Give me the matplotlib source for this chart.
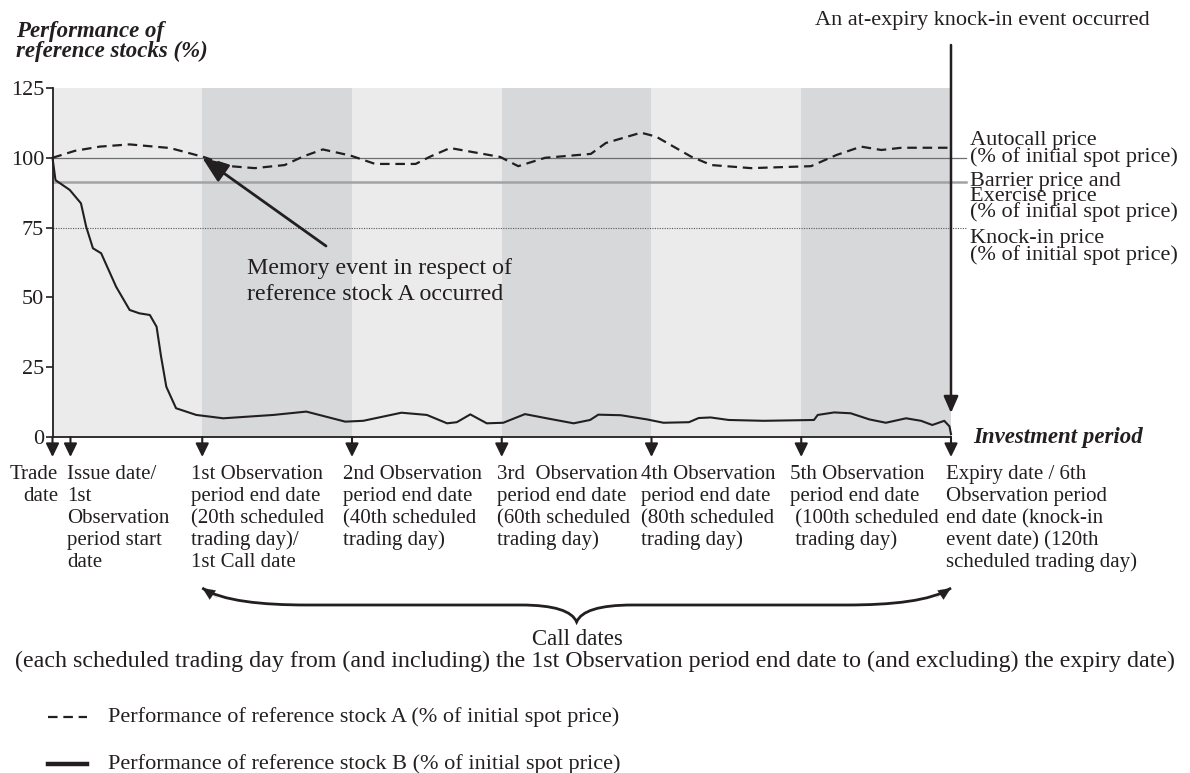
import matplotlib
matplotlib.use("Agg")
import matplotlib.pyplot as plt
import matplotlib.transforms as mtransforms
from matplotlib.lines import Line2D
from matplotlib.patches import PathPatch
from matplotlib.path import Path

plt.rcParams['font.family'] = ['Liberation Serif', 'DejaVu Serif']

# ---------------- data ----------------
days_a = [0, 3, 6.3, 10.3, 15.7, 20.3, 23.7, 27, 31, 33.5, 36.1, 39.8, 43.1, 48.5, 50.5,
          53.1, 59.8, 62.2, 65.8, 71.9, 73.9, 78.6, 80.6, 85.3, 88, 93.3, 101.3, 104.7,
          108, 110.7, 113.4, 120]
perf_a = [100, 102.5, 104, 104.8, 103.5, 100.2, 97, 96.3, 97.4, 100.5, 103, 100.8, 97.8,
          97.8, 100.5, 103.5, 100.3, 97, 100, 101.4, 105.3, 109, 107.6, 100.4, 97.4, 96.3,
          97, 101, 104, 102.8, 103.6, 103.6]

days_b = [0, 0.4, 2.3, 3.8, 4.5, 5.4, 6.5, 8.5, 10.3, 11.6, 13.0, 13.9, 14.5, 15.2, 16.5,
          19.2, 22.8, 29.5, 33.9, 39.1, 41.5, 46.6, 50.0, 52.7, 54.0, 55.8, 58.0, 60.2,
          63.1, 66.0, 69.6, 71.8, 72.9, 75.9, 79.4, 81.6, 85.0, 86.3, 87.9, 90.3, 95.0,
          101.7, 102.2, 104.4, 106.6, 109.1, 111.3, 114.0, 116.0, 117.5, 119.1, 119.8, 120]
perf_b = [100, 92, 88.5, 83.7, 75.3, 67.6, 65.8, 53.8, 45.5, 44.3, 43.7, 39.5, 28.8, 18,
          10.3, 7.9, 6.7, 7.9, 9.1, 5.5, 5.8, 8.7, 7.9, 4.9, 5.3, 8.1, 4.9, 5.1, 8.2, 6.7,
          4.9, 6.1, 8, 7.8, 6.3, 5.1, 5.3, 6.8, 7, 6.1, 5.8, 6.1, 7.9, 8.8, 8.5, 6.3, 5.1,
          6.7, 5.8, 4.3, 5.8, 3.8, 1.0]

autocall_level = 100
barrier_level = 91.5
knockin_level = 75
yticks = [0, 25, 50, 75, 100, 125]
period_ends = [0, 20, 40, 60, 80, 100, 120]
event_days = [0, 2.4, 20, 40, 60, 80, 100, 120]

event_labels = [
    ["Trade", "date"],
    ["Issue date/", "1st", "Observation", "period start", "date"],
    ["1st Observation", "period end date", "(20th scheduled", "trading day)/", "1st Call date"],
    ["2nd Observation", "period end date", "(40th scheduled", "trading day)"],
    ["3rd  Observation", "period end date", "(60th scheduled", "trading day)"],
    ["4th Observation", "period end date", "(80th scheduled", "trading day)"],
    ["5th Observation", "period end date", " (100th scheduled", " trading day)"],
    ["Expiry date / 6th", "Observation period", "end date (knock-in", "event date) (120th",
     "scheduled trading day)"],
]
level_labels = [
    ["Autocall price", "(% of initial spot price)"],
    ["Barrier price and", "Exercise price", "(% of initial spot price)"],
    ["Knock-in price", "(% of initial spot price)"],
]

# ---------------- layout ----------------
W, H = 1190, 773
TXT = '#231f20'
fig = plt.figure(figsize=(W / 100, H / 100), dpi=100)
ax = fig.add_axes([52.5 / W, (H - 437) / H, (951 - 52.5) / W, (437 - 88) / H])
T = mtransforms.Affine2D().scale(1, -1).translate(0, H)          # pixel coords from top-left
B = mtransforms.blended_transform_factory(ax.transData, T)      # x = day, y = pixel from top

ax.set_xlim(0, 120)
ax.set_ylim(0, 125)
band_cols = ['#ebebeb', '#d7d8da']
for i, (s, e) in enumerate(zip(period_ends[:-1], period_ends[1:])):
    ax.axvspan(s, e, color=band_cols[i % 2], lw=0, zorder=0)

for sp in ['top', 'right']:
    ax.spines[sp].set_visible(False)
ax.spines['left'].set_linewidth(1.3)
ax.spines['bottom'].set_linewidth(1.3)
ax.spines['left'].set_color(TXT)
ax.spines['bottom'].set_color(TXT)
ax.set_xticks([])
ax.set_yticks(yticks)
ax.tick_params(axis='y', length=5, width=1.2, pad=1, labelsize=16, colors=TXT)

# reference levels (extend slightly past the plot)
ax.plot([0, 122], [autocall_level] * 2, color='#6d6e71', lw=0.9, clip_on=False, zorder=2)
ax.plot([0, 122], [barrier_level] * 2, color='#a0a2a5', lw=1.8, clip_on=False, zorder=2)
ax.plot([0, 122], [knockin_level] * 2, color='#58595b', lw=0.8, ls=(0, (1, 1.2)),
        clip_on=False, zorder=2)

# series
la, = ax.plot(days_a, perf_a, color=TXT, lw=1.6, zorder=4)
la.set_dashes((4.3, 2.6))
ax.plot(days_b, perf_b, color=TXT, lw=1.5, zorder=4, clip_on=False)

# level labels (baselines in pixels)
lvl_y = [[145, 162], [186, 201, 217], [243, 260]]
for lbls, ys in zip(level_labels, lvl_y):
    for s, y in zip(lbls, ys):
        fig.text(970, y, s, transform=T, fontsize=16, va='baseline', color=TXT)

# axis title
fig.text(16, 37, "Performance of", transform=T, fontsize=16.5, fontweight='bold',
         fontstyle='italic', va='baseline', color=TXT)
fig.text(16, 57, "reference stocks (%)", transform=T, fontsize=16.5, fontweight='bold',
         fontstyle='italic', va='baseline', color=TXT)
fig.text(973, 437, "Investment period", transform=T, fontsize=16.5, fontweight='bold',
         fontstyle='italic', va='center', color=TXT)

# memory event annotation
ax.annotate("", xy=(20, 100), xycoords='data', xytext=(326, 246), textcoords=T,
            arrowprops=dict(arrowstyle='-|>,head_length=0.8,head_width=0.32',
                            mutation_scale=20, color=TXT, lw=2, shrinkA=0, shrinkB=0),
            zorder=6)
fig.text(247, 274, "Memory event in respect of", transform=T, fontsize=17.3, va='baseline',
         color=TXT)
fig.text(247, 300, "reference stock A occurred", transform=T, fontsize=17.3, va='baseline',
         color=TXT)

# knock-in event annotation
ax.annotate("", xy=(120, 413), xycoords=B, xytext=(120, 45), textcoords=B,
            arrowprops=dict(arrowstyle='-|>,head_length=0.5,head_width=0.22',
                            mutation_scale=20, color=TXT, lw=1.8, shrinkA=0, shrinkB=0),
            annotation_clip=False, zorder=6)
fig.text(982, 20, "An at-expiry knock-in event occurred", transform=T, fontsize=16,
         ha='center', va='center', color=TXT)

# event arrows and labels below axis
label_x = [58, 67, 191, 343, 497, 641, 790, 946]
for d, lbls, x in zip(event_days, event_labels, label_x):
    ax.annotate("", xy=(d, 457), xycoords=B, xytext=(d, 437), textcoords=B,
                arrowprops=dict(arrowstyle='-|>,head_length=0.45,head_width=0.22',
                                mutation_scale=18, color=TXT, lw=1.5, shrinkA=0, shrinkB=0),
                annotation_clip=False)
    ha = 'right' if d == 0 else 'left'
    for i, s in enumerate(lbls):
        fig.text(x, 479 + 22 * i, s, transform=T, fontsize=15, ha=ha, va='baseline', color=TXT)

# call-date brace
c = (period_ends[1] + period_ends[-1]) / 2
verts = [(20, 588), (22.6, 601), (28, 605), (34, 605),
         (c - 7.5, 605),
         (c - 3, 605), (c - 0.6, 611), (c, 622),
         (c + 0.6, 611), (c + 3, 605), (c + 7.5, 605),
         (106, 605),
         (112, 605), (117.4, 601), (120, 588)]
codes = [Path.MOVETO, Path.CURVE4, Path.CURVE4, Path.CURVE4,
         Path.LINETO,
         Path.CURVE4, Path.CURVE4, Path.CURVE4,
         Path.CURVE4, Path.CURVE4, Path.CURVE4,
         Path.LINETO,
         Path.CURVE4, Path.CURVE4, Path.CURVE4]
brace = PathPatch(Path(verts, codes), fill=False, lw=2, edgecolor=TXT, transform=B,
                  clip_on=False)
fig.add_artist(brace)
for tip, tail in [((20, 588), (22.0, 598)), ((120, 588), (118.0, 598))]:
    ax.annotate("", xy=tip, xycoords=B, xytext=tail, textcoords=B,
                arrowprops=dict(arrowstyle='-|>,head_length=0.5,head_width=0.22',
                                mutation_scale=18, color=TXT, lw=0.1, shrinkA=0, shrinkB=0),
                annotation_clip=False)

fig.text(577.5, 645, "Call dates", transform=T, fontsize=16.5, ha='center', va='baseline',
         color=TXT)
fig.text(595, 667, "(each scheduled trading day from (and including) the 1st Observation period "
         "end date to (and excluding) the expiry date)", transform=T, fontsize=17.3,
         ha='center', va='baseline', color=TXT)

# legend
l1 = Line2D([48, 87], [717, 717], transform=T, color=TXT, lw=1.6)
l1.set_dashes((4.3, 2.6))
fig.add_artist(l1)
fig.add_artist(Line2D([48, 87], [764, 764], transform=T, color=TXT, lw=3.2))
fig.text(108, 717, "Performance of reference stock A (% of initial spot price)", transform=T,
         fontsize=16, va='center', color=TXT)
fig.text(108, 764, "Performance of reference stock B (% of initial spot price)", transform=T,
         fontsize=16, va='center', color=TXT)

fig.savefig("out.png", dpi=100)
